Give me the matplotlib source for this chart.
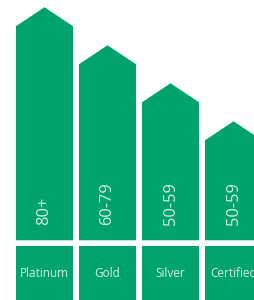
import matplotlib
matplotlib.use("Agg")
from matplotlib import pyplot as plt
from matplotlib.patches import Polygon, Rectangle

# tiers, left to right
tiers = ["Platinum", "Gold", "Silver", "Certified"]
points = ["80+", "60-79", "50-59", "50-59"]
levels = [4, 3, 2, 1]

green = "#00a36c"
text_color = "#d4efe2"

bar_w = 0.905
base = 1.63      # extra height under the shoulder
roof = 0.5       # height of the pointed roof
box_top = -0.15
box_bottom = -2.0

fig = plt.figure(figsize=(2.54, 3.0), dpi=100)
ax = fig.add_axes([0, 0, 1, 1])
ax.set_xlim(-0.706, 3.325)
ax.set_ylim(-1.571, 6.32)
ax.axis("off")

for i, (tier, pts, lvl) in enumerate(zip(tiers, points, levels)):
    left = i - bar_w / 2
    right = i + bar_w / 2
    top = lvl + base

    # house shaped bar
    house = Polygon([(left, 0), (left, top), (i, top + roof),
                     (right, top), (right, 0)],
                    closed=True, facecolor=green, edgecolor="none")
    ax.add_patch(house)

    # label box underneath
    ax.add_patch(Rectangle((left, box_bottom), bar_w, box_top - box_bottom,
                           facecolor=green, edgecolor="none"))

    ax.text(i, 0.4, pts, rotation=90, ha="center", va="bottom",
            color=text_color, fontsize=11.8, family="Open Sans")
    ax.text(i, -0.87, tier, ha="center", va="center",
            color=text_color, fontsize=8.5, family="Open Sans")

fig.savefig("out.png", dpi=100)
